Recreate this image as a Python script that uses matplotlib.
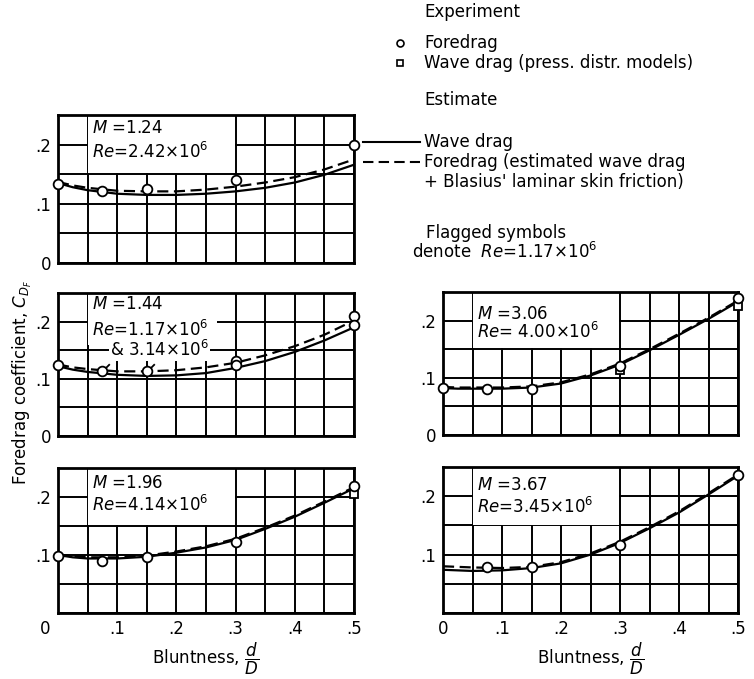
import numpy as np
import matplotlib
matplotlib.use("Agg")
import matplotlib.pyplot as plt
from matplotlib.path import Path
from matplotlib.lines import Line2D
from matplotlib.patches import Rectangle
import matplotlib.transforms as mtransforms

W, H = 754, 679
plt.rcParams["font.family"] = ["DejaVu Sans"]
plt.rcParams["mathtext.fontset"] = "dejavusans"
FS = 12

# abscissa for estimate curves (bluntness d/D)
x_curve = [0, 0.025, 0.05, 0.1, 0.15, 0.2, 0.25, 0.3, 0.35, 0.4, 0.45, 0.5]

# M = 1.24
m124_wave = [0.135, 0.128, 0.123, 0.117, 0.115, 0.115, 0.117, 0.121, 0.127, 0.136, 0.149, 0.166]
m124_fore = [0.137, 0.131, 0.127, 0.122, 0.121, 0.121, 0.124, 0.129, 0.136, 0.145, 0.158, 0.175]
m124_cx = [0, 0.075, 0.15, 0.3, 0.5]
m124_cy = [0.133, 0.122, 0.125, 0.140, 0.200]

# M = 1.44
m144_wave = [0.122, 0.116, 0.112, 0.107, 0.105, 0.106, 0.110, 0.119, 0.131, 0.147, 0.167, 0.190]
m144_fore = [0.125, 0.120, 0.117, 0.113, 0.113, 0.115, 0.120, 0.128, 0.141, 0.157, 0.177, 0.202]
m144_cx = [0, 0.3, 0.3, 0.5, 0.5]
m144_cy = [0.124, 0.131, 0.124, 0.209, 0.194]
m144_fx = [0.075, 0.15]
m144_fy = [0.114, 0.114]

# M = 1.96
m196_wave = [0.100, 0.096, 0.094, 0.094, 0.097, 0.104, 0.113, 0.126, 0.145, 0.166, 0.190, 0.215]
m196_fore = [0.101, 0.098, 0.096, 0.096, 0.099, 0.106, 0.115, 0.128, 0.147, 0.168, 0.192, 0.217]
m196_cx = [0, 0.075, 0.15, 0.3, 0.5]
m196_cy = [0.098, 0.090, 0.096, 0.123, 0.219]
m196_sx = [0.5]
m196_sy = [0.206]

# M = 3.06
m306_wave = [0.082, 0.081, 0.081, 0.081, 0.083, 0.090, 0.104, 0.123, 0.148, 0.175, 0.203, 0.233]
m306_fore = [0.084, 0.083, 0.083, 0.083, 0.085, 0.092, 0.106, 0.125, 0.150, 0.177, 0.205, 0.235]
m306_cx = [0, 0.075, 0.15, 0.5]
m306_cy = [0.083, 0.080, 0.081, 0.239]
m306_fx = [0.3]
m306_fy = [0.120]
m306_sx = [0.3, 0.5]
m306_sy = [0.113, 0.226]

# M = 3.67
m367_wave = [0.074, 0.073, 0.072, 0.073, 0.077, 0.085, 0.100, 0.120, 0.145, 0.172, 0.203, 0.235]
m367_fore = [0.080, 0.079, 0.078, 0.077, 0.079, 0.087, 0.102, 0.122, 0.147, 0.174, 0.205, 0.237]
m367_cx = [0.075, 0.15, 0.3, 0.5]
m367_cy = [0.079, 0.079, 0.117, 0.236]

x_ticks = np.arange(0, 0.501, 0.05)
y_ticks = np.arange(0, 0.251, 0.05)
x_ticklabels = ["0", "", ".1", "", ".2", "", ".3", "", ".4", "", ".5"]

# flagged circle marker (circle + short flag)
flag_marker = Path.make_compound_path(
    Path.unit_circle(),
    Path([(0.7, 0.7), (1.5, 1.5)], [Path.MOVETO, Path.LINETO]),
)


def px_rect(l, t, r, b):
    return [l / W, 1 - b / H, (r - l) / W, (b - t) / H]


fig = plt.figure(figsize=(W / 100, H / 100), dpi=100)

panels = [
    dict(rect=(58, 115, 354, 263), wave=m124_wave, fore=m124_fore, cx=m124_cx, cy=m124_cy,
         lines=[(r"$M$ =1.24", 0.228), (r"$Re$=2.42$\times$10$^6$", 0.188)],
         box=(0.05, 0.3, 0.15, 0.25), bottom=False),
    dict(rect=(58, 293, 354, 436), wave=m144_wave, fore=m144_fore, cx=m144_cx, cy=m144_cy,
         fx=m144_fx, fy=m144_fy,
         lines=[(r"$M$ =1.44", 0.231), (r"$Re$=1.17$\times$10$^6$", 0.186)],
         box=(0.05, 0.27, 0.158, 0.25), bottom=False),
    dict(rect=(58, 468, 354, 613), wave=m196_wave, fore=m196_fore, cx=m196_cx, cy=m196_cy,
         sx=m196_sx, sy=m196_sy,
         lines=[(r"$M$ =1.96", 0.225), (r"$Re$=4.14$\times$10$^6$", 0.186)],
         box=(0.05, 0.3, 0.15, 0.25), bottom=True),
    dict(rect=(443, 292, 738, 435), wave=m306_wave, fore=m306_fore, cx=m306_cx, cy=m306_cy,
         fx=m306_fx, fy=m306_fy, sx=m306_sx, sy=m306_sy,
         lines=[(r"$M$ =3.06", 0.212), (r"$Re$= 4.00$\times$10$^6$", 0.181)],
         box=(0.05, 0.3, 0.15, 0.25), bottom=False),
    dict(rect=(443, 467, 738, 613), wave=m367_wave, fore=m367_fore, cx=m367_cx, cy=m367_cy,
         lines=[(r"$M$ =3.67", 0.220), (r"$Re$=3.45$\times$10$^6$", 0.181)],
         box=(0.05, 0.3, 0.15, 0.25), bottom=True),
]

axes = []
for p in panels:
    ax = fig.add_axes(px_rect(*p["rect"]))
    axes.append(ax)
    ax.set_xlim(0, 0.5)
    ax.set_ylim(0, 0.25)
    ax.set_xticks(x_ticks)
    ax.set_yticks(y_ticks)
    ax.grid(True, color="black", linewidth=1.4)
    ax.tick_params(length=0, labelsize=FS, pad=5)
    for s in ax.spines.values():
        s.set_linewidth(2)
    if p["bottom"]:
        ax.set_xticklabels(x_ticklabels)
        ax.set_yticklabels(["", "", ".1", "", ".2", ""])
        ax.set_xlabel(r"Bluntness, $\dfrac{d}{D}$", fontsize=FS, labelpad=2)
    else:
        ax.set_xticklabels([])
        ax.set_yticklabels(["0", "", ".1", "", ".2", ""])

    # white label box over the grid
    x0, x1, y0, y1 = p["box"]
    ax.add_patch(Rectangle((x0 + 0.0015, y0 + 0.0015), x1 - x0 - 0.003, y1 - y0 - 0.003,
                           facecolor="white", edgecolor="none", zorder=1.6))
    for txt, yy in p["lines"]:
        ax.text(0.058, yy, txt, fontsize=FS, va="center", ha="left", zorder=3)

    ax.plot(x_curve, p["wave"], color="black", linewidth=1.6, zorder=2)
    ax.plot(x_curve, p["fore"], color="black", linewidth=1.6, linestyle=(0, (5, 2.5)), zorder=2)
    ax.plot(p["cx"], p["cy"], linestyle="none", marker="o", markersize=7,
            markerfacecolor="white", markeredgecolor="black", markeredgewidth=1.3,
            clip_on=False, zorder=4)
    if "fx" in p:
        ax.plot(p["fx"], p["fy"], linestyle="none", marker=flag_marker, markersize=10.5,
                markerfacecolor="white", markeredgecolor="black", markeredgewidth=1.3,
                clip_on=False, zorder=4)
    if "sx" in p:
        ax.plot(p["sx"], p["sy"], linestyle="none", marker="s", markersize=5.5,
                markerfacecolor="white", markeredgecolor="black", markeredgewidth=1.3,
                clip_on=False, zorder=3.5)

# extra Re line in M=1.44 panel
axes[1].text(0.088, 0.150, r"& 3.14$\times$10$^6$", fontsize=FS, va="center", ha="left",
             zorder=3, bbox=dict(facecolor="white", edgecolor="none", pad=0.5))

# shift the left "0" x label a little to the left, as in the original
lbl0 = axes[2].get_xticklabels()[0]
lbl0.set_transform(lbl0.get_transform() +
                   mtransforms.ScaledTranslation(-13 / 100, 0, fig.dpi_scale_trans))


def fx(x):
    return x / W


def fy(y):
    return 1 - y / H


# y axis title
fig.text(fx(22), fy(382), r"Foredrag coefficient, $C_{D_F}$", rotation=90,
         fontsize=FS, ha="center", va="center")

# legend block (top right)
fig.text(fx(424), fy(12), "Experiment", fontsize=FS, va="center")
fig.add_artist(Line2D([fx(400)], [fy(43)], marker="o", markersize=5, markerfacecolor="white",
                      markeredgecolor="black", markeredgewidth=1.2))
fig.text(fx(424), fy(43), "Foredrag", fontsize=FS, va="center")
fig.add_artist(Line2D([fx(400)], [fy(63)], marker="s", markersize=4.5, markerfacecolor="white",
                      markeredgecolor="black", markeredgewidth=1.2))
fig.text(fx(424), fy(63), "Wave drag (press. distr. models)", fontsize=FS, va="center")
fig.text(fx(424), fy(100), "Estimate", fontsize=FS, va="center")
fig.add_artist(Line2D([fx(363), fx(420)], [fy(142), fy(142)], color="black", linewidth=1.5))
fig.text(fx(424), fy(142), "Wave drag", fontsize=FS, va="center")
fig.add_artist(Line2D([fx(363), fx(420)], [fy(162), fy(162)], color="black", linewidth=1.5,
                      linestyle=(0, (5, 2.5))))
fig.text(fx(424), fy(162), "Foredrag (estimated wave drag", fontsize=FS, va="center")
fig.text(fx(424), fy(182), "+ Blasius' laminar skin friction)", fontsize=FS, va="center")
fig.text(fx(426), fy(233), "Flagged symbols", fontsize=FS, va="center")
fig.text(fx(412), fy(252), r"denote  $Re$=1.17$\times$10$^6$", fontsize=FS, va="center")

fig.savefig("out.png", dpi=100)
